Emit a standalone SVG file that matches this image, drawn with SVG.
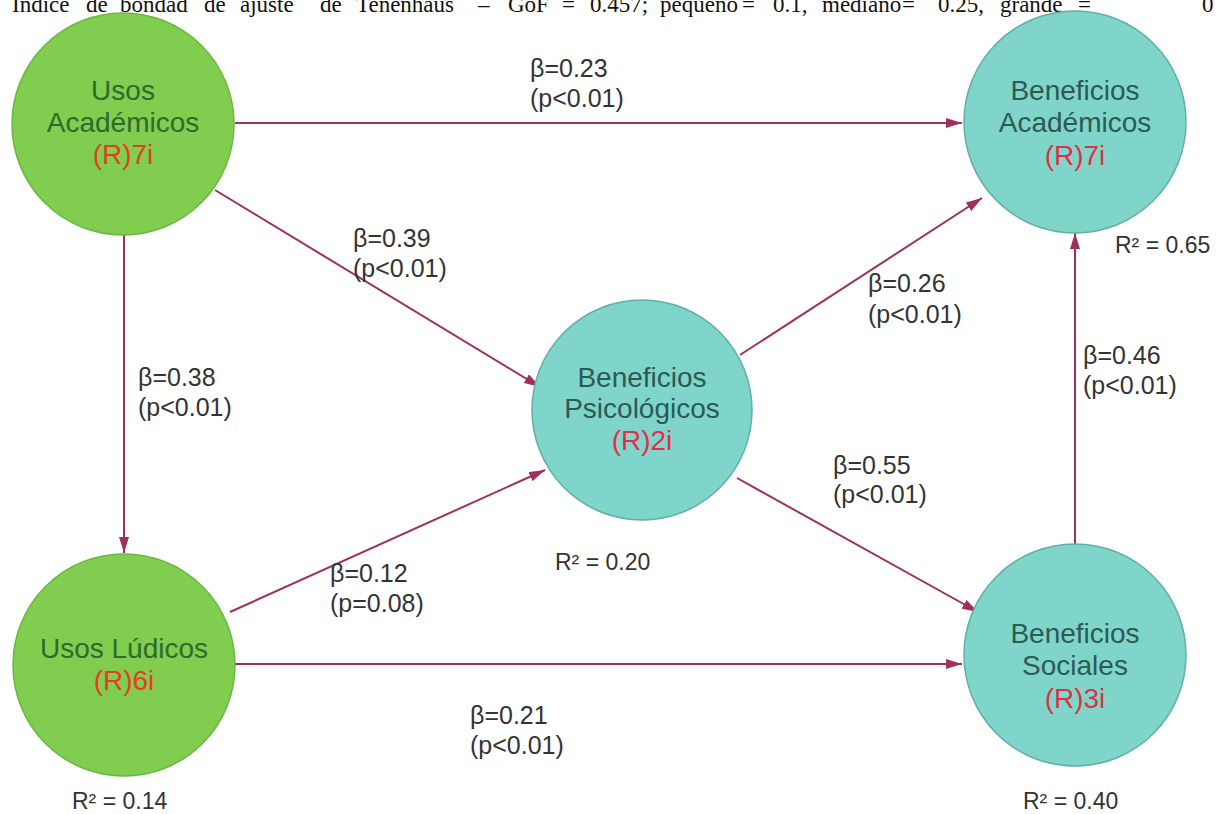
<svg xmlns="http://www.w3.org/2000/svg" width="1216" height="814" viewBox="0 0 1216 814">
  <style>
    .caption { font-family: "Liberation Serif", "Times New Roman", serif; font-size: 23px; fill: #111; }
    .green { fill: #80cd50; stroke: #6ab840; stroke-width: 1.5; }
    .teal { fill: #80d5ca; stroke: #5fb0a5; stroke-width: 1.5; }
    .ttl { font-family: "Liberation Sans", Arial, sans-serif; font-size: 28px; text-anchor: middle; }
    .ttl-g { fill: #2f6a2c; }
    .ttl-t { fill: #2c5a55; }
    .ind-g { fill: #e2401c; }
    .ind-t { fill: #e03048; }
    .lbl { font-family: "Liberation Sans", Arial, sans-serif; font-size: 25px; fill: #333; }
    .r2 { font-family: "Liberation Sans", Arial, sans-serif; font-size: 23px; fill: #333; }
    .edge { stroke: #a0305a; stroke-width: 2; fill: none; marker-end: url(#arrow); }
  </style>
  <defs>
    <marker id="arrow" viewBox="0 0 16 10" refX="16" refY="5" markerWidth="16" markerHeight="10" markerUnits="userSpaceOnUse" orient="auto">
      <path d="M0,0 L16,5 L0,10 Z" fill="#a0305a"/>
    </marker>
  </defs>

  <rect width="1216" height="814" fill="#ffffff"/>

  <!-- fit index caption, cut at the top edge -->
  <text class="caption" y="12">
    <tspan x="12">Índice</tspan><tspan x="86">de</tspan><tspan x="120">bondad</tspan><tspan x="204">de</tspan><tspan x="240">ajuste</tspan><tspan x="320">de</tspan><tspan x="356">Tenenhaus</tspan><tspan x="478">–</tspan><tspan x="508">GoF</tspan><tspan x="562">=</tspan><tspan x="590">0.457;</tspan><tspan x="660">pequeño</tspan><tspan x="742">=</tspan><tspan x="773">0.1,</tspan><tspan x="822">mediano</tspan><tspan x="902">=</tspan><tspan x="938">0.25,</tspan><tspan x="1000">grande</tspan><tspan x="1078">=</tspan><tspan x="1202">0</tspan>
  </text>

  <!-- connectors -->
  <g id="connectors">
    <line class="edge" x1="235" y1="123" x2="962" y2="123"/>
    <line class="edge" x1="215" y1="190" x2="540" y2="387"/>
    <line class="edge" x1="124" y1="235" x2="124" y2="553"/>
    <line class="edge" x1="230" y1="612" x2="545" y2="470"/>
    <line class="edge" x1="235" y1="664" x2="962" y2="664"/>
    <line class="edge" x1="740" y1="355" x2="982" y2="198"/>
    <line class="edge" x1="737" y1="478" x2="978" y2="612"/>
    <line class="edge" x1="1075" y1="545" x2="1075" y2="233"/>

    <text class="lbl" x="530" y="77">β=0.23</text>
    <text class="lbl" x="530" y="107">(p&lt;0.01)</text>
    <text class="lbl" x="353" y="247">β=0.39</text>
    <text class="lbl" x="353" y="277">(p&lt;0.01)</text>
    <text class="lbl" x="138" y="386">β=0.38</text>
    <text class="lbl" x="138" y="416">(p&lt;0.01)</text>
    <text class="lbl" x="330" y="582">β=0.12</text>
    <text class="lbl" x="330" y="612">(p=0.08)</text>
    <text class="lbl" x="470" y="724">β=0.21</text>
    <text class="lbl" x="470" y="754">(p&lt;0.01)</text>
    <text class="lbl" x="868" y="292">β=0.26</text>
    <text class="lbl" x="868" y="323">(p&lt;0.01)</text>
    <text class="lbl" x="1083" y="364">β=0.46</text>
    <text class="lbl" x="1083" y="394">(p&lt;0.01)</text>
    <text class="lbl" x="833" y="474">β=0.55</text>
    <text class="lbl" x="833" y="503">(p&lt;0.01)</text>
  </g>

  <g id="usos-academicos">
    <circle class="green" cx="123" cy="124" r="111"/>
    <text class="ttl ttl-g" x="123" y="100">Usos</text>
    <text class="ttl ttl-g" x="123" y="132">Académicos</text>
    <text class="ttl ind-g" x="123" y="164">(R)7i</text>
  </g>

  <g id="beneficios-academicos">
    <circle class="teal" cx="1075" cy="122" r="111"/>
    <text class="ttl ttl-t" x="1075" y="100">Beneficios</text>
    <text class="ttl ttl-t" x="1075" y="132">Académicos</text>
    <text class="ttl ind-t" x="1075" y="165">(R)7i</text>
    <text class="r2" x="1115" y="253">R² = 0.65</text>
  </g>

  <g id="beneficios-psicologicos">
    <circle class="teal" cx="642" cy="410" r="110"/>
    <text class="ttl ttl-t" x="642" y="387">Beneficios</text>
    <text class="ttl ttl-t" x="642" y="418">Psicológicos</text>
    <text class="ttl ind-t" x="642" y="450">(R)2i</text>
    <text class="r2" x="555" y="570">R² = 0.20</text>
  </g>

  <g id="usos-ludicos">
    <circle class="green" cx="124" cy="665" r="111"/>
    <text class="ttl ttl-g" x="124" y="658">Usos Lúdicos</text>
    <text class="ttl ind-g" x="124" y="690">(R)6i</text>
    <text class="r2" x="72" y="809">R² = 0.14</text>
  </g>

  <g id="beneficios-sociales">
    <circle class="teal" cx="1075" cy="655" r="111"/>
    <text class="ttl ttl-t" x="1075" y="643">Beneficios</text>
    <text class="ttl ttl-t" x="1075" y="675">Sociales</text>
    <text class="ttl ind-t" x="1075" y="708">(R)3i</text>
    <text class="r2" x="1023" y="809">R² = 0.40</text>
  </g>
</svg>
